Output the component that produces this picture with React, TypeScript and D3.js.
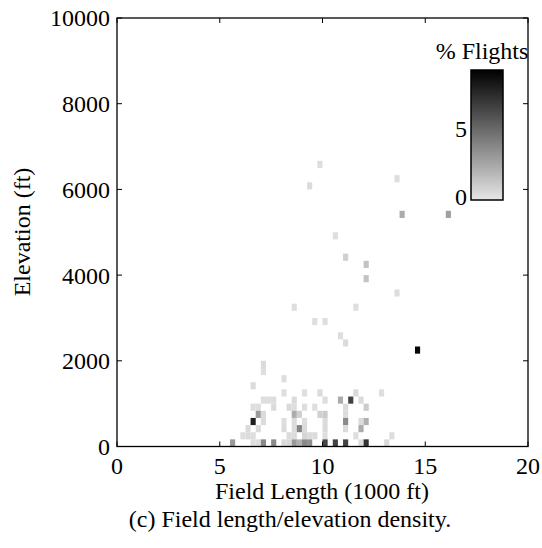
import React from "react";
import * as d3 from "d3";

// Field length bin centers (1000 ft)
const fieldLength = [
  9.875, 13.625, 9.375, 13.875, 16.125, 10.625, 11.125, 12.125, 12.125, 13.625,
  8.625, 11.625, 9.625, 10.125, 10.875, 11.125, 14.625,
  7.125, 7.125, 8.125, 6.625,
  8.125, 9.125, 9.875, 11.625, 12.875,
  7.125, 7.375, 7.625, 8.625, 10.125, 10.875, 11.375, 11.875,
  6.625, 6.875, 7.625, 8.375, 8.625, 9.125, 9.625, 11.125, 12.125,
  6.875, 7.125, 8.625, 8.875, 9.875, 10.125, 11.125,
  6.625, 7.125, 8.125, 8.625, 9.125, 10.125, 11.125, 11.875, 12.125,
  6.375, 6.875, 8.125, 8.625, 8.875, 9.125, 10.125, 11.125, 11.875,
  6.125, 6.375, 6.625, 8.375, 8.625, 9.125, 9.375, 9.625, 10.125, 11.625, 13.375,
  5.625, 6.625, 6.875, 7.125, 7.625, 8.125, 8.375, 8.625, 8.875, 9.125, 9.375,
  10.125, 10.625, 11.125, 11.875, 12.125, 13.125,
];
// Elevation bin centers (ft)
const elevation = [
  6583, 6250, 6083, 5417, 5417, 4917, 4417, 4250, 3917, 3583,
  3250, 3250, 2917, 2917, 2583, 2417, 2250,
  1917, 1750, 1583, 1417,
  1250, 1250, 1250, 1250, 1250,
  1083, 1083, 1083, 1083, 1083, 1083, 1083, 1083,
  917, 917, 917, 917, 917, 917, 917, 917, 917,
  750, 750, 750, 750, 750, 750, 750,
  583, 583, 583, 583, 583, 583, 583, 583, 583,
  417, 417, 417, 417, 417, 417, 417, 417, 417,
  250, 250, 250, 250, 250, 250, 250, 250, 250, 250, 250,
  83, 83, 83, 83, 83, 83, 83, 83, 83, 83, 83,
  83, 83, 83, 83, 83, 83,
];
// % of flights in each bin
const pctFlights = [
  0.35, 0.35, 0.45, 2.4, 2.9, 0.35, 0.9, 1.45, 1.45, 0.35,
  0.35, 0.35, 0.35, 0.35, 0.35, 0.45, 9.2,
  0.45, 0.35, 0.35, 0.45,
  0.35, 0.35, 0.45, 0.55, 0.35,
  0.35, 0.35, 0.35, 0.45, 0.35, 2.4, 6.8, 0.45,
  0.35, 0.35, 0.45, 0.45, 0.35, 0.35, 0.35, 0.45, 1.1,
  3.1, 0.45, 2.4, 0.9, 0.9, 1.1, 0.45,
  8.2, 0.45, 0.35, 0.45, 0.35, 0.45, 3.8, 0.45, 2.2,
  0.45, 0.45, 0.45, 0.45, 4.0, 0.45, 0.55, 0.45, 2.4,
  0.35, 0.45, 0.35, 0.45, 0.45, 0.7, 0.45, 0.45, 0.35, 0.35, 0.35,
  3.2, 0.35, 0.35, 3.8, 3.8, 0.45, 0.55, 3.2, 2.2, 3.8, 3.6,
  6.7, 6.7, 6.7, 0.45, 7.4, 0.45,
];

const xTicks = [0, 5, 10, 15, 20];
const yTicks = [0, 2000, 4000, 6000, 8000, 10000];
const cbTicks = [0, 5];

const xBin = 0.25;
const yBin = 10000 / 60;
const cMax = 9.5;

const FONT = "'Liberation Serif', 'Times New Roman', serif";

export default function App() {
  const W = 542, H = 548;
  const x = d3.scaleLinear().domain([0, 20]).range([117, 528]);
  const y = d3.scaleLinear().domain([0, 10000]).range([446.5, 18]);
  const color = d3.scaleLinear<string>().domain([0, cMax]).range(["#e6e6e6", "#000000"]).clamp(true);
  const cb = d3.scaleLinear().domain([0, cMax]).range([200, 70]);
  const cbX = 471, cbW = 32;
  const tickLen = 5;

  const cells = fieldLength.map((fl, i) => ({ fl, el: elevation[i], v: pctFlights[i] }));
  const cw = x(xBin) - x(0);
  const ch = y(0) - y(yBin);

  const gradStops = d3.range(0, 1.0001, 0.1);

  return (
    <svg width={W} height={H} style={{ position: "absolute", left: 0, top: 0, background: "#fff" }} fontFamily={FONT}>
      <defs>
        <linearGradient id="cbgrad" x1="0" y1="1" x2="0" y2="0">
          {gradStops.map((t) => (
            <stop key={t} offset={t} stopColor={color(t * cMax)} />
          ))}
        </linearGradient>
      </defs>
      <rect x={0} y={0} width={W} height={H} fill="#fff" />
      {cells.map((c, i) => (
        <rect
          key={i}
          x={x(c.fl - xBin / 2)}
          y={y(c.el + yBin / 2)}
          width={cw}
          height={ch}
          fill={color(c.v)}
        />
      ))}
      {/* frame */}
      <rect x={x(0)} y={y(10000)} width={x(20) - x(0)} height={y(0) - y(10000)} fill="none" stroke="#000" strokeWidth={1.3} />
      {xTicks.map((t) => (
        <g key={"xt" + t}>
          <line x1={x(t)} x2={x(t)} y1={y(0)} y2={y(0) - tickLen} stroke="#000" strokeWidth={1} />
          <line x1={x(t)} x2={x(t)} y1={y(10000)} y2={y(10000) + tickLen} stroke="#000" strokeWidth={1} />
          <text x={x(t)} y={474} textAnchor="middle" fontSize={24}>{t}</text>
        </g>
      ))}
      {yTicks.map((t) => (
        <g key={"yt" + t}>
          <line x1={x(0)} x2={x(0) + tickLen} y1={y(t)} y2={y(t)} stroke="#000" strokeWidth={1} />
          <line x1={x(20)} x2={x(20) - tickLen} y1={y(t)} y2={y(t)} stroke="#000" strokeWidth={1} />
          <text x={110} y={y(t)} dy="0.35em" textAnchor="end" fontSize={24}>{t}</text>
        </g>
      ))}
      <text x={322} y={499} textAnchor="middle" fontSize={24}>Field Length (1000 ft)</text>
      <text transform={`translate(30,232) rotate(-90)`} textAnchor="middle" fontSize={24}>Elevation (ft)</text>
      <text x={290} y={527} textAnchor="middle" fontSize={24}>(c) Field length/elevation density.</text>

      {/* colorbar */}
      <rect x={cbX} y={cb(cMax)} width={cbW} height={cb(0) - cb(cMax)} fill="url(#cbgrad)" stroke="#000" strokeWidth={1.5} />
      {cbTicks.map((t) => (
        <text key={"cb" + t} x={467} y={cb(t) - 3} dy="0.35em" textAnchor="end" fontSize={24}>{t}</text>
      ))}
      <text x={482} y={59} textAnchor="middle" fontSize={24}>% Flights</text>
    </svg>
  );
}
